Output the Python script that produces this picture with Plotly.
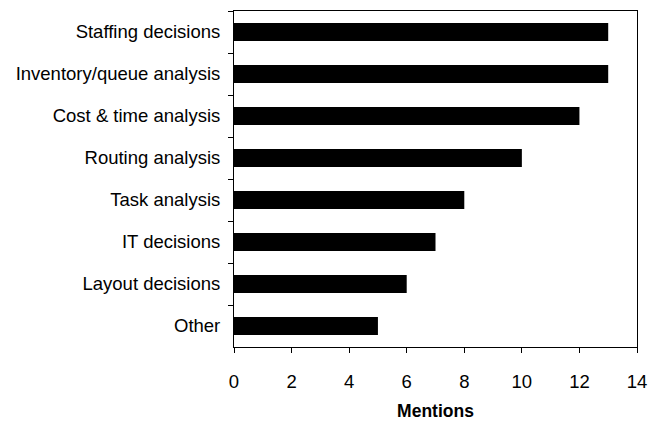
import plotly.graph_objects as go

categories = ["Staffing decisions", "Inventory/queue analysis", "Cost & time analysis",
              "Routing analysis", "Task analysis", "IT decisions", "Layout decisions", "Other"]
mentions = [13, 13, 12, 10, 8, 7, 6, 5]
x_ticks = [0, 2, 4, 6, 8, 10, 12, 14]

font_family = "Liberation Sans, Arial, sans-serif"

fig = go.Figure(go.Bar(
    x=mentions, y=categories, orientation="h",
    marker=dict(color="black", line=dict(width=0)),
    width=0.43,
))

fig.update_layout(
    width=658, height=421,
    margin=dict(l=234, r=21, t=11, b=74),
    plot_bgcolor="white", paper_bgcolor="white",
    showlegend=False,
    font=dict(family=font_family, size=18.5, color="black"),
    xaxis=dict(
        range=[0, 14], tickvals=x_ticks, ticktext=[str(v) for v in x_ticks],
        showgrid=False, zeroline=False,
        showline=True, linecolor="black", linewidth=1, mirror=True,
        ticks="outside", ticklen=5, tickcolor="black", tickwidth=1,
        tickfont=dict(size=18.5),
        ticklabelstandoff=13,
        automargin=False,
        title=dict(text="<b>Mentions</b>", font=dict(size=17.5), standoff=14),
    ),
    yaxis=dict(
        categoryorder="array", categoryarray=categories, autorange="reversed",
        showgrid=False, zeroline=False,
        showline=True, linecolor="black", linewidth=1, mirror=True,
        ticks="outside", ticklen=5, tickcolor="black", tickwidth=1,
        tickson="boundaries",
        tickfont=dict(size=18.5),
        ticklabelstandoff=9,
        automargin=False,
    ),
)

fig.write_html("out.html")
